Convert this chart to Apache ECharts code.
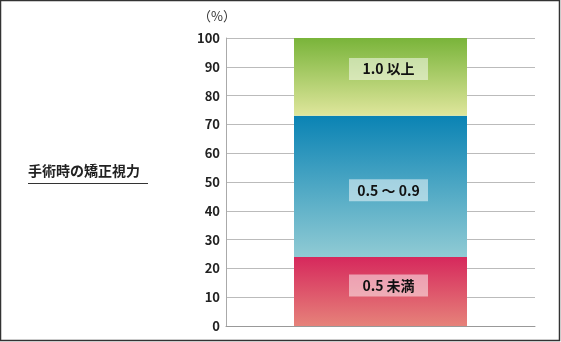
<!DOCTYPE html>
<html><head><meta charset="utf-8">
<script src="https://cdn.jsdelivr.net/npm/echarts@6/dist/echarts.min.js"></script>
<style>html,body{margin:0;padding:0;background:#fff}#c{width:561px;height:342px}</style>
</head><body><div id="c"></div>
<script>
const categories = ['手術時の矯正視力'];
const seriesNames = ['0.5 未満', '0.5 ～ 0.9', '1.0 以上'];
const values = [24, 49, 27];
const yTicks = [0, 10, 20, 30, 40, 50, 60, 70, 80, 90, 100];

const grads = [
  ['#d6285c', '#e6827a'],
  ['#0a83b4', '#90cbd4'],
  ['#79b43a', '#dfe69c']
];
const labelOffsets = [[8, -6], [8, 4], [8, -8]];
const chart = echarts.init(document.getElementById('c'), null, {renderer: 'canvas'});
const font = '"Noto Sans CJK JP", "Noto Sans", sans-serif';
chart.setOption({
  animation: false,
  grid: {left: 226, right: 26, top: 38, bottom: 16},
  xAxis: {type: 'category', data: categories, axisLabel: {show: false}, axisTick: {show: false},
    axisLine: {lineStyle: {color: '#999', width: 1}}},
  yAxis: {type: 'value', min: 0, max: 100, interval: 10,
    axisLine: {show: true, lineStyle: {color: '#aaa'}},
    axisTick: {show: false},
    splitLine: {lineStyle: {color: '#bbb'}},
    axisLabel: {color: '#222', fontWeight: 'bold', fontSize: 13, fontFamily: font, margin: 6,
      formatter: v => yTicks.includes(v) ? String(v) : ''}},
  series: seriesNames.map((n, i) => ({
    type: 'bar', name: n, stack: 'a', barWidth: 173,
    data: [values[i]],
    itemStyle: {color: new echarts.graphic.LinearGradient(0, 0, 0, 1, [
      {offset: 0, color: grads[i][0]}, {offset: 1, color: grads[i][1]}])},
    label: {show: true, position: 'inside', formatter: n, offset: labelOffsets[i],
      color: '#111', fontWeight: 'bold', fontSize: 14, fontFamily: font,
      backgroundColor: 'rgba(255,255,255,0.5)', width: 79, height: 22, lineHeight: 22, align: 'center'}
  })),
  graphic: [
    {type: 'rect', shape: {x: 0.5, y: 0.5, width: 559, height: 340}, style: {fill: 'none', stroke: '#333', lineWidth: 1.5}, silent: true},
    {type: 'text', x: 198, y: 10, style: {text: '（%）', fill: '#333', font: '13px ' + font}},
    {type: 'text', x: 28, y: 164, style: {text: categories[0], fill: '#222', font: 'bold 14px ' + font}},
    {type: 'line', shape: {x1: 28, y1: 183.5, x2: 148, y2: 183.5}, style: {stroke: '#333', lineWidth: 1}}
  ]
});
</script></body></html>
